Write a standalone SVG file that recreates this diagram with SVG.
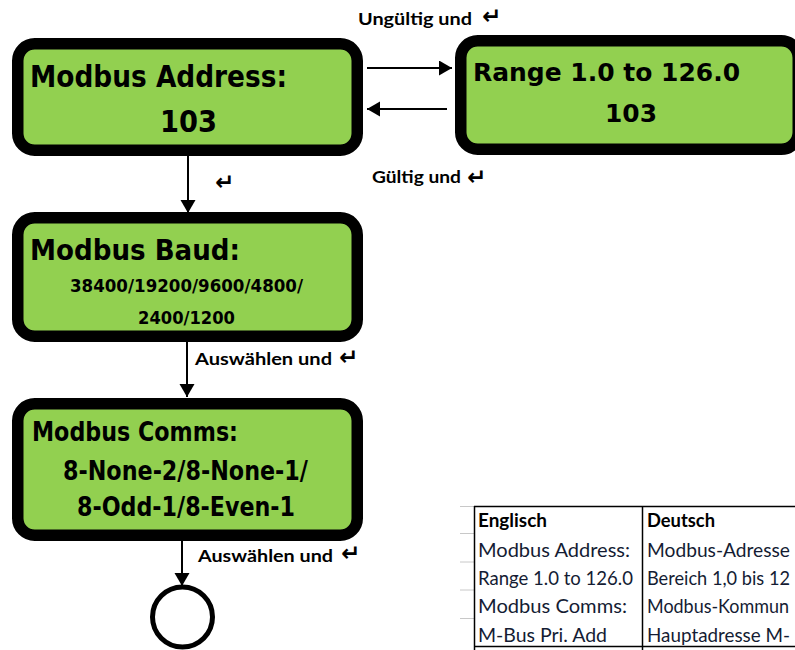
<svg xmlns="http://www.w3.org/2000/svg" width="795" height="650" viewBox="0 0 795 650">
<style>
.box{fill:#92D050;stroke:#000;stroke-width:11.5}
.nt{font-family:"DejaVu Sans",sans-serif;font-weight:bold;fill:#000}
.lbl{font-family:Lato,"Liberation Sans",sans-serif;font-weight:bold;font-size:17px;fill:#000}
.ret{font-family:"DejaVu Sans",sans-serif;font-weight:bold;font-size:23px;fill:#000}
.conn{stroke:#000;stroke-width:2;fill:none}
.tb{font-family:Lato,"Liberation Sans",sans-serif;font-size:19px;fill:#141c33}
.tbh{font-family:Lato,"Liberation Sans",sans-serif;font-size:19px;font-weight:bold;fill:#000}
</style>
<defs>
<marker id="ah" markerUnits="userSpaceOnUse" markerWidth="16" markerHeight="16" refX="13" refY="7.5" orient="auto">
<path d="M0,0 L13,7.5 L0,15 z" fill="#000"/>
</marker>
</defs>
<rect width="795" height="650" fill="#fff"/>

<g id="connectors">
<line class="conn" x1="188" y1="156" x2="188" y2="213" marker-end="url(#ah)"/>
<line class="conn" x1="187" y1="342" x2="187" y2="397" marker-end="url(#ah)"/>
<line class="conn" x1="182" y1="541" x2="182" y2="586" marker-end="url(#ah)"/>
<line class="conn" x1="367" y1="68" x2="452" y2="68" marker-end="url(#ah)"/>
<line class="conn" x1="447" y1="109" x2="367" y2="109" marker-end="url(#ah)"/>
<text class="lbl" x="358" y="25" textLength="114" lengthAdjust="spacingAndGlyphs">Ungültig und</text>
<text class="ret" x="482" y="24">↵</text>
<text class="lbl" x="372" y="183" textLength="89" lengthAdjust="spacingAndGlyphs">Gültig und</text>
<text class="ret" x="467" y="185">↵</text>
<text class="ret" x="215" y="190">↵</text>
<text class="lbl" x="195" y="365" textLength="137" lengthAdjust="spacingAndGlyphs">Auswählen und</text>
<text class="ret" x="339" y="365">↵</text>
<text class="lbl" x="198" y="562" textLength="135" lengthAdjust="spacingAndGlyphs">Auswählen und</text>
<text class="ret" x="341" y="561">↵</text>
</g>

<g id="node-address">
<rect class="box" x="17.75" y="43.75" width="339.5" height="106.5" rx="17"/>
<text class="nt" x="30" y="87" font-size="30" textLength="257" lengthAdjust="spacingAndGlyphs">Modbus Address:</text>
<text class="nt" x="188.5" y="131.5" font-size="30" text-anchor="middle" textLength="57" lengthAdjust="spacingAndGlyphs">103</text>
</g>

<g id="node-range">
<rect class="box" x="460.75" y="40.75" width="337.5" height="108.5" rx="17"/>
<text class="nt" x="473" y="81" font-size="25" textLength="267" lengthAdjust="spacingAndGlyphs">Range 1.0 to 126.0</text>
<text class="nt" x="631" y="122" font-size="25" text-anchor="middle" textLength="52" lengthAdjust="spacingAndGlyphs">103</text>
</g>

<g id="node-baud">
<rect class="box" x="17.75" y="217.75" width="339.5" height="118.5" rx="17"/>
<text class="nt" x="30" y="260" font-size="28" textLength="210" lengthAdjust="spacingAndGlyphs">Modbus Baud:</text>
<text class="nt" x="70" y="292" font-size="17" textLength="233" lengthAdjust="spacingAndGlyphs">38400/19200/9600/4800/</text>
<text class="nt" x="186.5" y="324" font-size="17" text-anchor="middle" textLength="97" lengthAdjust="spacingAndGlyphs">2400/1200</text>
</g>

<g id="node-comms">
<rect class="box" x="17.75" y="403.75" width="339.5" height="131.5" rx="17"/>
<text class="nt" x="32" y="440.5" font-size="26" textLength="206" lengthAdjust="spacingAndGlyphs">Modbus Comms:</text>
<text class="nt" x="63" y="479.5" font-size="26" textLength="245" lengthAdjust="spacingAndGlyphs">8-None-2/8-None-1/</text>
<text class="nt" x="77" y="516" font-size="26" textLength="218" lengthAdjust="spacingAndGlyphs">8-Odd-1/8-Even-1</text>
</g>

<g id="node-end">
<circle cx="182.5" cy="617" r="30" fill="#fff" stroke="#000" stroke-width="5"/>
</g>

<g id="table">
<g stroke="#c8c8c8" stroke-width="1">
<line x1="460" y1="506.5" x2="474" y2="506.5"/>
<line x1="460" y1="533.5" x2="474" y2="533.5"/>
<line x1="460" y1="562" x2="474" y2="562"/>
<line x1="460" y1="590" x2="474" y2="590"/>
<line x1="460" y1="618.5" x2="474" y2="618.5"/>
</g>
<g stroke="#000" stroke-width="1.5">
<line x1="474" y1="506.5" x2="795" y2="506.5"/>
<line x1="474" y1="646.5" x2="795" y2="646.5"/>
<line x1="474.5" y1="506" x2="474.5" y2="650"/>
<line x1="642.5" y1="506" x2="642.5" y2="650"/>
</g>
<text class="tbh" x="478" y="527" textLength="69" lengthAdjust="spacingAndGlyphs">Englisch</text>
<text class="tbh" x="647" y="527" textLength="68" lengthAdjust="spacingAndGlyphs">Deutsch</text>
<text class="tb" x="478" y="557" textLength="152" lengthAdjust="spacingAndGlyphs">Modbus Address:</text>
<text class="tb" x="647" y="557" textLength="143" lengthAdjust="spacingAndGlyphs">Modbus-Adresse</text>
<text class="tb" x="478" y="585" textLength="155" lengthAdjust="spacingAndGlyphs">Range 1.0 to 126.0</text>
<text class="tb" x="647" y="585" textLength="143" lengthAdjust="spacingAndGlyphs">Bereich 1,0 bis 12</text>
<text class="tb" x="478" y="613" textLength="149" lengthAdjust="spacingAndGlyphs">Modbus Comms:</text>
<text class="tb" x="647" y="613" textLength="142" lengthAdjust="spacingAndGlyphs">Modbus-Kommun</text>
<text class="tb" x="478" y="642" textLength="129" lengthAdjust="spacingAndGlyphs">M-Bus Pri. Add</text>
<text class="tb" x="647" y="642" textLength="143" lengthAdjust="spacingAndGlyphs">Hauptadresse M-</text>
</g>
</svg>
